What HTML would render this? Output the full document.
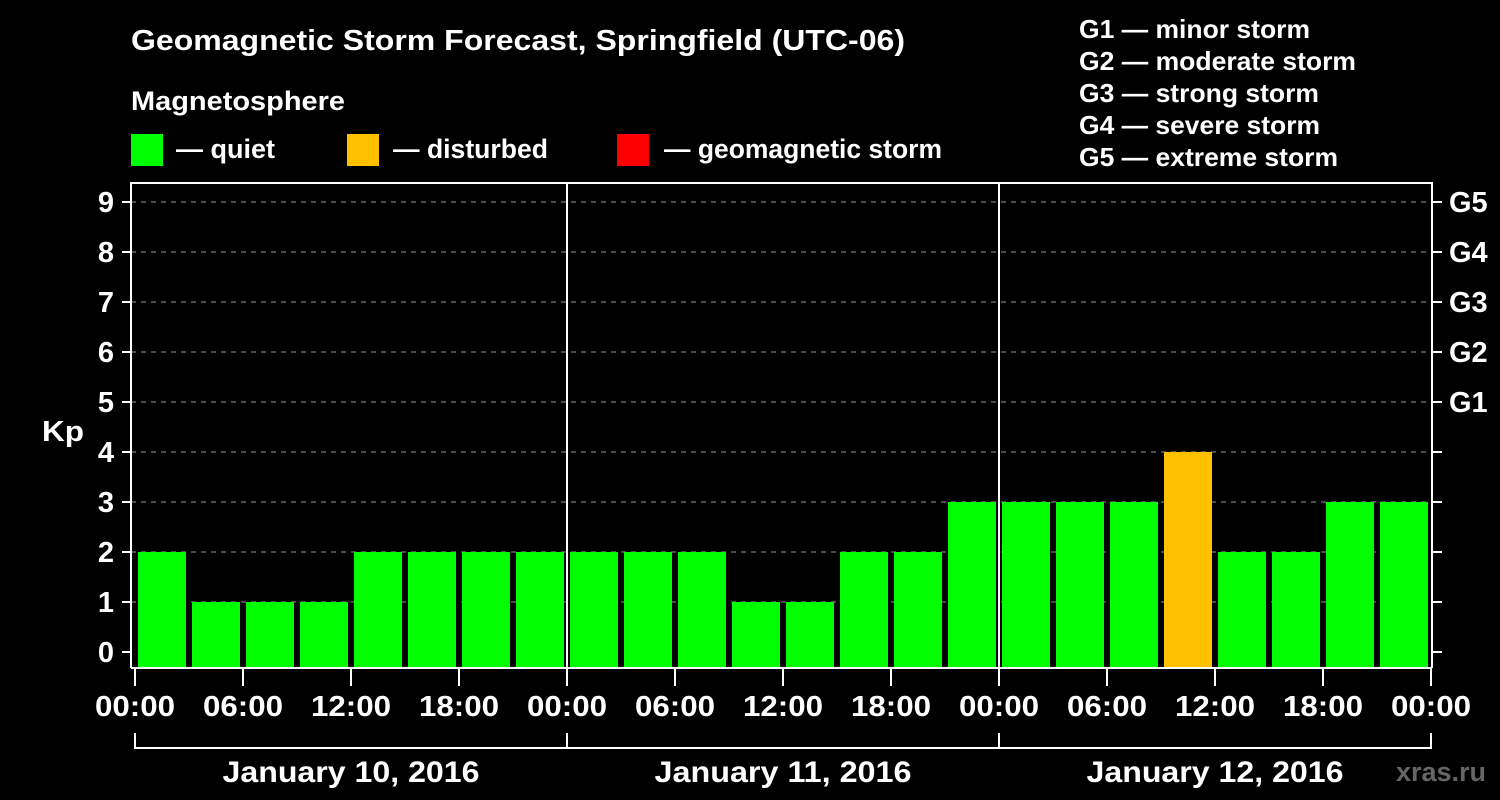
<!DOCTYPE html>
<html><head><meta charset="utf-8"><style>
html,body{margin:0;padding:0;background:#000;}
svg{display:block;font-family:"Liberation Sans",Arial,sans-serif;font-weight:bold;}
</style></head><body>
<svg width="1500" height="800" id="c">
<text x="131" y="50" fill="#fff" font-size="29" textLength="774" lengthAdjust="spacingAndGlyphs">Geomagnetic Storm Forecast, Springfield (UTC-06)</text>
<text x="131" y="110" fill="#fff" font-size="27" textLength="214" lengthAdjust="spacingAndGlyphs">Magnetosphere</text>
<rect x="131" y="134" width="32" height="32" fill="#00ff00"/>
<text x="176" y="158" fill="#fff" font-size="27" textLength="99" lengthAdjust="spacingAndGlyphs">— quiet</text>
<rect x="347" y="134" width="32" height="32" fill="#ffc000"/>
<text x="393" y="158" fill="#fff" font-size="27" textLength="155" lengthAdjust="spacingAndGlyphs">— disturbed</text>
<rect x="617" y="134" width="32" height="32" fill="#ff0000"/>
<text x="664" y="158" fill="#fff" font-size="27" textLength="278" lengthAdjust="spacingAndGlyphs">— geomagnetic storm</text>
<g fill="#fff" font-size="26" lengthAdjust="spacingAndGlyphs">
<text x="1079" y="38" textLength="231" lengthAdjust="spacingAndGlyphs">G1 — minor storm</text>
<text x="1079" y="70" textLength="277" lengthAdjust="spacingAndGlyphs">G2 — moderate storm</text>
<text x="1079" y="102" textLength="240" lengthAdjust="spacingAndGlyphs">G3 — strong storm</text>
<text x="1079" y="134" textLength="241" lengthAdjust="spacingAndGlyphs">G4 — severe storm</text>
<text x="1079" y="166" textLength="259" lengthAdjust="spacingAndGlyphs">G5 — extreme storm</text>
</g>
<text x="42" y="441" fill="#fff" font-size="29" textLength="42" lengthAdjust="spacingAndGlyphs">Kp</text>
<text x="1486" y="781" fill="#666" font-size="27" text-anchor="end">xras.ru</text>
<g id="plot"></g>
</svg>
<script>
const kpValues=[2,1,1,1,2,2,2,2, 2,2,2,1,1,2,2,3, 3,3,3,4,2,2,3,3];
const yTicks=[0,1,2,3,4,5,6,7,8,9];
const gLabels=["G1","G2","G3","G4","G5"];
const gLevels=[5,6,7,8,9];
const hourLabels=["00:00","06:00","12:00","18:00","00:00","06:00","12:00","18:00","00:00","06:00","12:00","18:00","00:00"];
const dayLabels=["January 10, 2016","January 11, 2016","January 12, 2016"];
const NS="http://www.w3.org/2000/svg";
const g=document.getElementById('plot');
const X0=135,X1=1431,BASE=668;
const xs=i=>X0+(X1-X0)*i/kpValues.length;
const y=v=>652-50*v;
function mk(t,a,txt){const e=document.createElementNS(NS,t);for(const k in a)e.setAttribute(k,a[k]);if(txt!==undefined)e.textContent=txt;g.appendChild(e);return e;}
yTicks.forEach(v=>{
 if(v>0){const l=mk('line',{x1:131,x2:1432,y1:y(v),y2:y(v),stroke:'#999','stroke-dasharray':'5,5','stroke-width':1});
 
 }
 const t=mk('line',{x1:122,x2:131,y1:y(v),y2:y(v),stroke:'#fff','stroke-width':2});
 
 
 const t2=mk('line',{x1:1432,x2:1442,y1:y(v),y2:y(v),stroke:'#fff','stroke-width':2});
 
 
 const tx=mk('text',{x:114,y:y(v)+10,fill:'#fff','font-size':29,'text-anchor':'end'},String(v));
 
 
});
gLabels.forEach((s,i)=>{
 const tx=mk('text',{x:1449,y:y(gLevels[i])+10,fill:'#fff','font-size':29},s);
 
 
});
kpValues.forEach((v,i)=>{
 const c=v>=5?'#ff0000':(v>=4?'#ffc000':'#00ff00');
 const r=mk('rect',{x:xs(i)+3,y:y(v),width:48,height:BASE-y(v),fill:c});
 
 
});
const fr=mk('path',{d:`M131 ${BASE} V183 H1432 V${BASE} M131 ${BASE} H1432`,stroke:'#fff','stroke-width':2,fill:'none'});


[1,2].forEach(d=>{
 const l=mk('line',{x1:xs(d*8),x2:xs(d*8),y1:183,y2:BASE,stroke:'#fff','stroke-width':2});
 
 
});
hourLabels.forEach((s,i)=>{
 const x=xs(i*2);
 const l=mk('line',{x1:x,x2:x,y1:BASE,y2:686,stroke:'#fff','stroke-width':2});
 
 
 const t=mk('text',{x:x,y:716,fill:'#fff','font-size':29,'text-anchor':'middle',textLength:80,lengthAdjust:'spacingAndGlyphs'},s);
 
 
});
const br=mk('line',{x1:X0,x2:X1,y1:748,y2:748,stroke:'#fff','stroke-width':2});


[0,1,2,3].forEach(d=>{
 const l=mk('line',{x1:xs(d*8),x2:xs(d*8),y1:733,y2:749,stroke:'#fff','stroke-width':2});
 
 
});
dayLabels.forEach((s,d)=>{
 const t=mk('text',{x:(xs(d*8)+xs(d*8+8))/2,y:782,fill:'#fff','font-size':30,'text-anchor':'middle',textLength:257,lengthAdjust:'spacingAndGlyphs'},s);
 
 
});
</script>
</body></html>
